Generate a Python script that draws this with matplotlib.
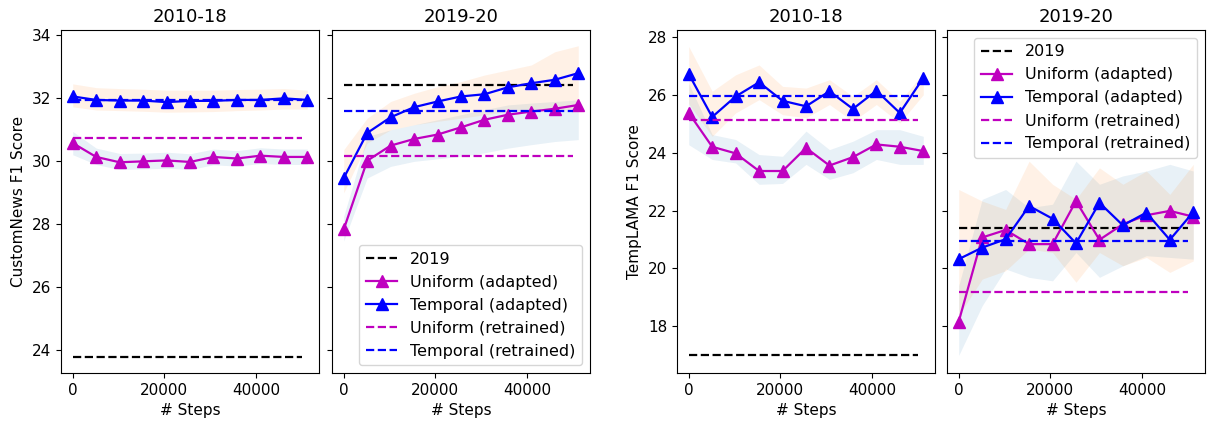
import matplotlib
matplotlib.use("Agg")
import matplotlib.pyplot as plt

steps = [0, 5120, 10240, 15360, 20480, 25600, 30720, 35840, 40960, 46080, 51200]
line_end = 50000
labels = ["2019", "Uniform (adapted)", "Temporal (adapted)", "Uniform (retrained)", "Temporal (retrained)"]
titles = ["2010-18", "2019-20"]

# CustomNews 2010-18
cn_a_2019 = 23.77
cn_a_uni_ret = 30.72
cn_a_tmp_ret = 31.93
cn_a_uni = [30.57, 30.13, 29.96, 29.99, 30.02, 29.97, 30.13, 30.08, 30.17, 30.13, 30.13]
cn_a_uni_lo = [30.20, 29.89, 29.73, 29.75, 29.77, 29.73, 29.88, 29.84, 29.92, 29.89, 29.89]
cn_a_uni_hi = [30.94, 30.41, 30.24, 30.25, 30.28, 30.23, 30.38, 30.33, 30.42, 30.38, 30.38]
cn_a_tmp = [32.05, 31.94, 31.92, 31.92, 31.87, 31.91, 31.91, 31.94, 31.94, 31.99, 31.94]
cn_a_tmp_lo = [31.72, 31.62, 31.60, 31.58, 31.55, 31.56, 31.57, 31.60, 31.62, 31.65, 31.65]
cn_a_tmp_hi = [32.45, 32.33, 32.30, 32.28, 32.25, 32.25, 32.25, 32.27, 32.28, 32.30, 32.25]

# CustomNews 2019-20
cn_b_2019 = 32.40
cn_b_uni_ret = 30.17
cn_b_tmp_ret = 31.59
cn_b_uni = [27.83, 30.01, 30.49, 30.70, 30.84, 31.07, 31.31, 31.47, 31.57, 31.66, 31.78]
cn_b_uni_lo = [27.46, 29.46, 29.83, 29.99, 30.07, 30.15, 30.26, 30.41, 30.52, 30.62, 30.68]
cn_b_uni_hi = [28.25, 30.78, 30.99, 31.15, 31.31, 31.47, 31.63, 31.78, 31.84, 31.89, 31.94]
cn_b_tmp = [29.46, 30.89, 31.39, 31.71, 31.89, 32.05, 32.12, 32.34, 32.47, 32.58, 32.79]
cn_b_tmp_lo = [28.99, 30.57, 30.99, 31.15, 31.26, 31.36, 31.47, 31.57, 31.63, 31.63, 31.63]
cn_b_tmp_hi = [30.36, 31.36, 31.89, 32.15, 32.36, 32.52, 32.73, 32.89, 33.05, 33.47, 33.66]

# TempLAMA 2010-18
tl_a_2019 = 17.01
tl_a_uni_ret = 25.15
tl_a_tmp_ret = 25.95
tl_a_uni = [25.38, 24.21, 23.98, 23.37, 23.37, 24.17, 23.56, 23.85, 24.29, 24.21, 24.06]
tl_a_uni_lo = [24.28, 23.77, 23.65, 22.91, 22.94, 23.60, 23.08, 23.31, 23.77, 23.60, 23.60]
tl_a_uni_hi = [26.40, 24.63, 24.46, 23.94, 23.88, 24.75, 24.11, 24.40, 24.80, 24.80, 24.57]
tl_a_tmp = [26.73, 25.24, 25.95, 26.44, 25.80, 25.61, 26.13, 25.52, 26.15, 25.38, 26.59]
tl_a_tmp_lo = [25.70, 24.57, 25.38, 25.84, 25.32, 25.21, 25.67, 25.09, 25.67, 25.03, 26.01]
tl_a_tmp_hi = [27.68, 26.13, 26.70, 27.04, 26.30, 26.24, 26.53, 25.95, 26.53, 25.78, 26.76]

# TempLAMA 2019-20
tl_b_2019 = 21.41
tl_b_uni_ret = 19.17
tl_b_tmp_ret = 20.95
tl_b_uni = [18.16, 21.07, 21.33, 20.84, 20.84, 22.33, 20.99, 21.53, 21.84, 21.99, 21.79]
tl_b_uni_lo = [16.99, 18.71, 19.98, 19.69, 19.57, 20.55, 19.69, 20.09, 20.44, 20.38, 20.32]
tl_b_uni_hi = [19.40, 22.39, 22.73, 22.10, 22.22, 23.71, 22.91, 23.20, 23.37, 23.60, 23.37]
tl_b_tmp = [20.32, 20.72, 21.01, 22.16, 21.72, 20.87, 22.27, 21.49, 21.93, 20.99, 21.95]
tl_b_tmp_lo = [18.37, 19.63, 19.92, 20.67, 20.55, 19.52, 20.55, 20.09, 20.38, 19.86, 20.26]
tl_b_tmp_hi = [22.73, 22.33, 22.04, 23.71, 22.91, 22.39, 23.48, 22.91, 23.37, 22.56, 23.60]

panels = [
    (cn_a_2019, cn_a_uni, cn_a_uni_lo, cn_a_uni_hi, cn_a_tmp, cn_a_tmp_lo, cn_a_tmp_hi, cn_a_uni_ret, cn_a_tmp_ret),
    (cn_b_2019, cn_b_uni, cn_b_uni_lo, cn_b_uni_hi, cn_b_tmp, cn_b_tmp_lo, cn_b_tmp_hi, cn_b_uni_ret, cn_b_tmp_ret),
    (tl_a_2019, tl_a_uni, tl_a_uni_lo, tl_a_uni_hi, tl_a_tmp, tl_a_tmp_lo, tl_a_tmp_hi, tl_a_uni_ret, tl_a_tmp_ret),
    (tl_b_2019, tl_b_uni, tl_b_uni_lo, tl_b_uni_hi, tl_b_tmp, tl_b_tmp_lo, tl_b_tmp_hi, tl_b_uni_ret, tl_b_tmp_ret),
]

fig = plt.figure(figsize=(12.07, 4.26), dpi=100)
W, H = 1207, 426
lefts = [61, 332, 677, 947]
pw, bot, ph = 258, 53, 343
axes = [fig.add_axes([l / W, bot / H, pw / W, ph / H]) for l in lefts]

ylims = [(23.27, 34.16), (23.27, 34.16), (16.38, 28.25), (16.38, 28.25)]

for i, (ax, p) in enumerate(zip(axes, panels)):
    y19, uni, ulo, uhi, tmp, tlo, thi, uret, tret = p
    ax.hlines(y19, 0, line_end, colors="k", linestyles="--", lw=1.6, label=labels[0])
    ax.plot(steps, uni, "m-^", lw=1.6, ms=8, label=labels[1])
    ax.fill_between(steps, ulo, uhi, color="C0", alpha=0.1, lw=0)
    ax.plot(steps, tmp, "b-^", lw=1.6, ms=8, label=labels[2])
    ax.fill_between(steps, tlo, thi, color="C1", alpha=0.1, lw=0)
    ax.hlines(uret, 0, line_end, colors="m", linestyles="--", lw=1.6, label=labels[3])
    ax.hlines(tret, 0, line_end, colors="b", linestyles="--", lw=1.6, label=labels[4])
    ax.set_ylim(*ylims[i])
    ax.set_title(titles[i % 2], fontsize=13)
    ax.set_xlabel("# Steps", fontsize=11)
    ax.set_xticks([0, 20000, 40000])
    ax.tick_params(labelsize=11)
    if i % 2 == 1:
        ax.tick_params(labelleft=False)

axes[0].set_ylabel("CustomNews F1 Score", fontsize=11)
axes[2].set_ylabel("TempLAMA F1 Score", fontsize=11)
axes[0].set_yticks([24, 26, 28, 30, 32, 34])
axes[1].set_yticks([24, 26, 28, 30, 32, 34])
axes[2].set_yticks([18, 20, 22, 24, 26, 28])
axes[3].set_yticks([18, 20, 22, 24, 26, 28])

axes[1].legend(loc="lower right", fontsize=11.5)
axes[3].legend(loc="upper right", fontsize=11.5)

fig.savefig("out.png", dpi=100)
